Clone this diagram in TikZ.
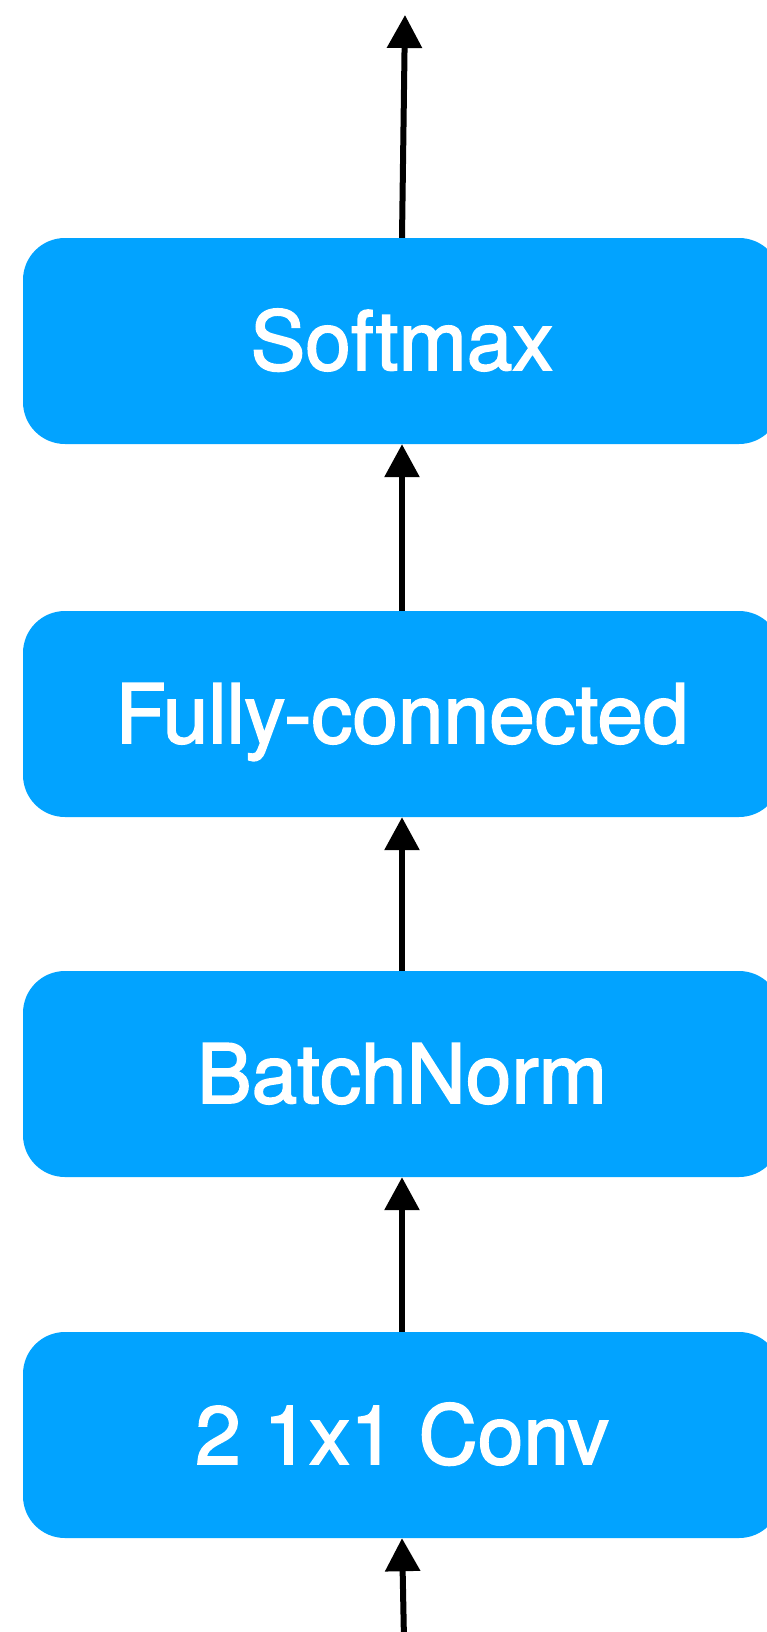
\documentclass[tikz,border=0pt]{standalone}
\usepackage{fontspec}
\setmainfont{TeX Gyre Heros}
\newfontfamily\labelfont{TeX Gyre Heros}[FakeBold=2]
\usetikzlibrary{arrows.meta}
\definecolor{layerblue}{RGB}{2,163,255}
\tikzset{
  layer/.style={rectangle, fill=layerblue, draw=none, rounded corners=42pt,
    minimum width=758pt, minimum height=206pt, inner sep=0pt,
    text height=58pt, text depth=0pt,
    text=white, font=\labelfont\fontsize{82}{96}\selectfont},
  flow/.style={line width=6pt, -{Triangle[length=33pt,width=34pt]}}
}
\begin{document}
\begin{tikzpicture}[x=1pt,y=-1pt]
  \useasboundingbox (0,0) rectangle (767,1632);
  \clip (0,0) rectangle (767,1632);
  % network layers, bottom to top
  \node[layer] (conv) at (402,1435) {2 1x1 Conv};
  \node[layer] (bn)   at (402,1074) {BatchNorm};
  \node[layer] (fc)   at (402,714)  {Fully-connected};
  \node[layer] (sm)   at (402,341)  {Softmax};
  % open ends of the input and output arrows
  \coordinate (in)  at (404,1640);
  \coordinate (out) at (405,15);
  % data flow
  \draw[flow] (in) -- (conv.south);
  \draw[flow] (conv.north) -- (bn.south);
  \draw[flow] (bn.north) -- (fc.south);
  \draw[flow] (fc.north) -- (sm.south);
  \draw[flow] (sm.north) -- (out);
\end{tikzpicture}
\end{document}
